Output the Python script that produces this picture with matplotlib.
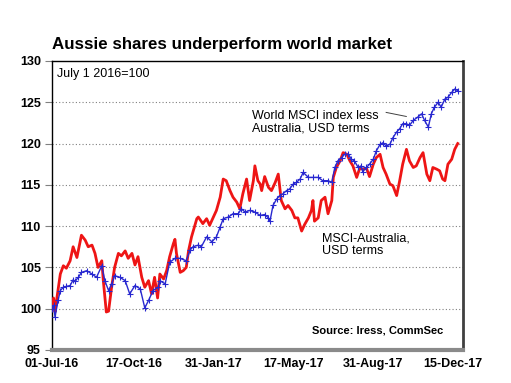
import numpy as np
import pandas as pd
import matplotlib
matplotlib.use("Agg")
import matplotlib.pyplot as plt
import matplotlib.dates as mdates

plt.rcParams['font.family'] = ['Liberation Sans', 'DejaVu Sans']

# index base date, data given as day offsets from it
base_date = pd.Timestamp('2016-07-01')

# MSCI-Australia, USD terms
red_days = [0, 2, 4, 6, 11, 15, 19, 24, 28, 33, 39, 44, 48, 53, 57, 61, 66, 68, 72, 75,
            79, 83, 88, 92, 97, 101, 106, 110, 114, 119, 123, 128, 132, 136, 140, 143,
            148, 152, 156, 161, 163, 165, 170, 174, 178, 181, 185, 192, 194, 200, 205,
            209, 214, 218, 223, 227, 231, 236, 240, 245, 249, 253, 258, 262, 267, 269,
            273, 276, 278, 282, 287, 291, 296, 300, 304, 309, 313, 318, 322, 326, 331,
            335, 340, 344, 346, 348, 353, 357, 362, 366, 371, 373, 377, 382, 386, 391,
            395, 399, 404, 408, 412, 417, 421, 426, 430, 435, 439, 443, 448, 452, 457,
            461, 465, 470, 474, 479, 483, 488, 492, 497, 501, 505, 510, 514, 518, 521,
            525, 530, 534, 538]
red_vals = [100.0, 101.3, 99.6, 101.0, 104.2, 105.2, 104.9, 105.8, 107.5, 106.2, 108.9,
            108.3, 107.5, 107.7, 106.7, 105.0, 105.8, 103.4, 99.6, 99.7, 102.6, 105.0,
            106.7, 106.4, 107.0, 106.1, 106.7, 105.3, 106.3, 103.8, 102.6, 103.4, 101.8,
            103.8, 101.3, 104.2, 103.6, 104.6, 106.3, 107.9, 108.4, 106.7, 104.4, 104.6,
            105.0, 107.0, 108.7, 110.9, 111.1, 110.3, 110.9, 110.1, 111.1, 111.9, 113.5,
            115.7, 115.5, 114.3, 113.5, 112.9, 112.1, 113.9, 115.7, 113.1, 115.5, 117.3,
            115.5, 115.1, 114.3, 116.0, 114.7, 114.3, 115.3, 116.3, 113.1, 112.1, 112.5,
            111.9, 111.0, 111.0, 109.4, 110.2, 111.0, 111.9, 113.1, 110.6, 111.0, 113.1,
            113.5, 111.5, 113.1, 115.9, 117.1, 117.9, 118.9, 118.7, 117.9, 117.3, 115.9,
            117.0, 116.9, 117.0, 116.0, 117.5, 118.3, 118.7, 117.1, 116.3, 115.1, 114.9,
            113.7, 115.5, 117.5, 119.3, 117.9, 117.1, 117.3, 118.3, 118.9, 116.3, 115.5,
            117.1, 116.9, 116.7, 115.7, 115.5, 117.5, 118.1, 119.3, 120.0]

# World MSCI index less Australia, USD terms
blue_days = [0, 2, 4, 8, 11, 15, 19, 24, 28, 30, 35, 39, 46, 53, 59, 66, 70, 75, 79, 83,
             90, 97, 103, 110, 117, 123, 128, 134, 141, 143, 150, 156, 163, 170, 178,
             183, 187, 194, 198, 205, 212, 218, 223, 227, 234, 240, 247, 251, 256, 262,
             269, 276, 282, 287, 289, 293, 298, 302, 306, 311, 315, 320, 324, 329, 333,
             340, 346, 353, 359, 366, 371, 375, 379, 384, 388, 393, 397, 401, 406, 410,
             412, 417, 421, 426, 430, 435, 439, 443, 448, 452, 457, 461, 465, 470, 474,
             479, 485, 490, 494, 499, 503, 507, 512, 516, 521, 525, 530, 534, 538]
blue_vals = [100.0, 100.4, 99.0, 101.0, 102.2, 102.6, 102.7, 102.8, 103.5, 103.3, 103.8,
             104.4, 104.6, 104.2, 103.8, 105.2, 103.4, 102.2, 103.0, 104.0, 103.8, 103.4,
             101.8, 102.8, 102.4, 100.1, 101.0, 102.2, 102.6, 103.4, 103.0, 105.6, 106.1,
             106.1, 105.8, 107.1, 107.5, 107.7, 107.5, 108.7, 108.1, 108.7, 109.9, 110.9,
             111.1, 111.5, 111.5, 112.1, 111.7, 111.9, 111.7, 111.3, 111.4, 111.0, 110.6,
             112.5, 113.3, 113.7, 113.9, 114.3, 114.5, 115.1, 115.3, 115.7, 116.5, 115.9,
             115.9, 115.9, 115.5, 115.5, 115.3, 117.1, 117.9, 118.3, 118.7, 118.7, 118.1,
             117.9, 117.1, 117.3, 116.6, 117.1, 117.5, 118.1, 119.1, 119.9, 120.1, 119.7,
             119.9, 120.7, 121.4, 121.8, 122.4, 122.4, 122.2, 122.8, 123.2, 123.6, 122.8,
             122.0, 123.6, 124.4, 125.0, 124.4, 125.4, 125.6, 126.2, 126.6, 126.4]

tick_dates = ['2016-07-01', '2016-10-17', '2017-01-31', '2017-05-17', '2017-08-31', '2017-12-15']
y_ticks = [95, 100, 105, 110, 115, 120, 125, 130]

red_x = base_date + pd.to_timedelta(red_days, unit='D')
blue_x = base_date + pd.to_timedelta(blue_days, unit='D')

fig = plt.figure(figsize=(5.11, 3.83), dpi=100)
ax = fig.add_axes([0.1018, 0.0862, 0.8043, 0.7546])

for y in y_ticks[1:-1]:
    ax.axhline(y, color='#808080', lw=0.8, ls=(0, (1, 2)), zorder=1)

ax.plot(red_x, red_vals, color='#ee1515', lw=2.0, zorder=3)
ax.plot(blue_x, blue_vals, color='#2828d0', lw=1.0, marker='+', ms=5, mew=0.8, zorder=4)

ax.set_ylim(95, 130)
ax.set_yticks(y_ticks)
ax.set_xlim(base_date, base_date + pd.Timedelta(days=545))
ax.set_xticks(pd.to_datetime(tick_dates))
ax.xaxis.set_major_formatter(mdates.DateFormatter('%d-%b-%y'))

ax.tick_params(axis='y', direction='out', length=5, color='#808080', width=0.8,
               labelsize=9, pad=3)
ax.tick_params(axis='x', length=0, labelsize=9, pad=5.5)
for lab in ax.get_xticklabels() + ax.get_yticklabels():
    lab.set_fontweight('bold')

for s in ['left', 'top']:
    ax.spines[s].set_color('black')
    ax.spines[s].set_linewidth(1.0)
ax.spines['right'].set_color('#404040')
ax.spines['right'].set_linewidth(2.0)
ax.spines['bottom'].set_color('#8a8a8a')
ax.spines['bottom'].set_linewidth(3.0)
ax.spines['bottom'].set_linestyle((0, (6, 1)))

fig.text(0.1018, 0.865, 'Aussie shares underperform world market', fontsize=12.2,
         fontweight='bold', ha='left', va='bottom')

ax.text(0.012, 0.955, 'July 1 2016=100', transform=ax.transAxes, fontsize=9,
        ha='left', va='center')
ax.text(0.487, 0.787, 'World MSCI index less\nAustralia, USD terms', transform=ax.transAxes,
        fontsize=9, ha='left', va='center', linespacing=1.1)
ax.plot([0.813, 0.862], [0.822, 0.808], transform=ax.transAxes, color='#404040', lw=0.7)
ax.text(0.657, 0.365, 'MSCI-Australia,\nUSD terms', transform=ax.transAxes,
        fontsize=9, ha='left', va='center', linespacing=1.1)
ax.text(0.951, 0.0675, 'Source: Iress, CommSec', transform=ax.transAxes, fontsize=8,
        fontweight='bold', ha='right', va='center')

fig.savefig('out.png', dpi=100)
